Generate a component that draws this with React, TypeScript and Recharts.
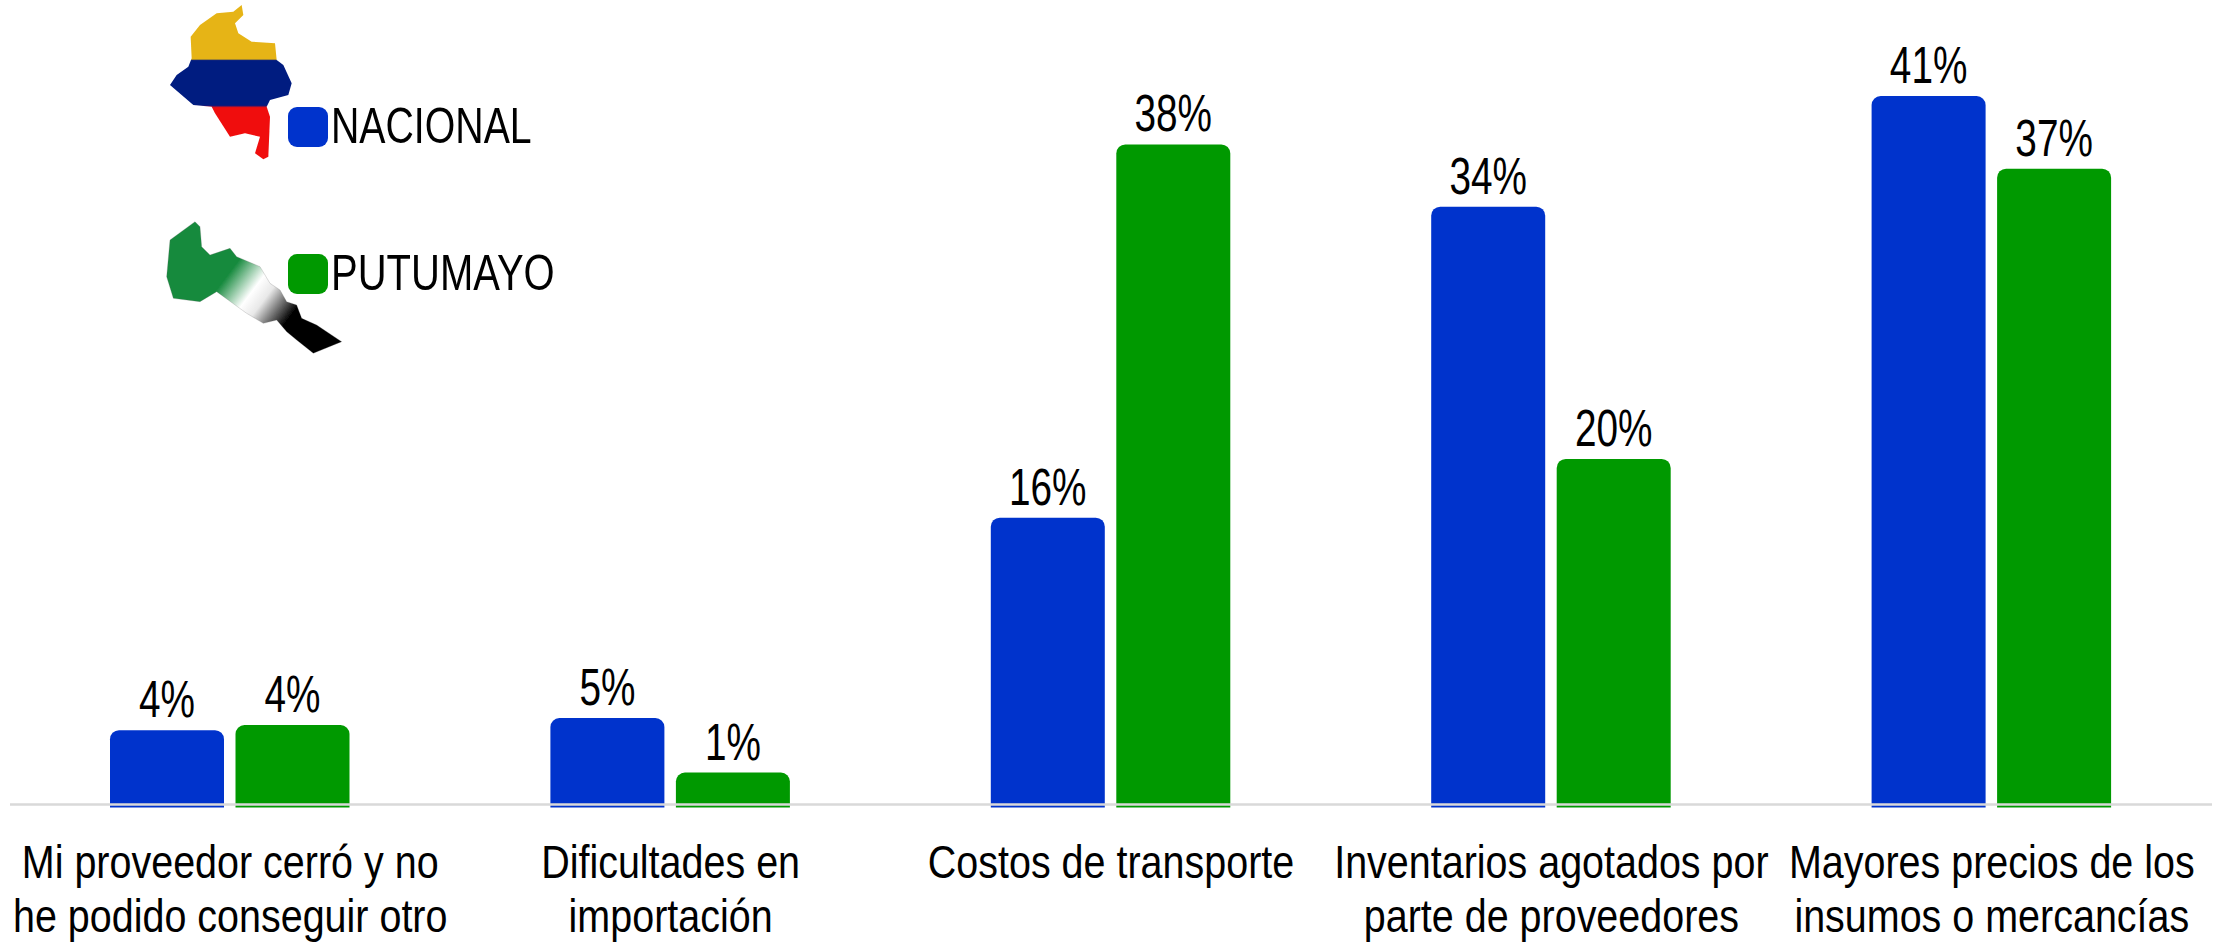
import { BarChart, Bar, XAxis, YAxis, LabelList, Legend, Rectangle, ReferenceLine } from "recharts"

const categories = [
  "Mi proveedor cerró y no|he podido conseguir otro",
  "Dificultades en|importación",
  "Costos de transporte",
  "Inventarios agotados por|parte de proveedores",
  "Mayores precios de los|insumos o mercancías",
]
const nacional = [4.3, 5, 16.6, 34.6, 41]
const putumayo = [4.6, 1.85, 38.2, 20, 36.8]
const nacionalLabels = ["4%", "5%", "16%", "34%", "41%"]
const putumayoLabels = ["4%", "1%", "38%", "20%", "37%"]

const data = categories.map((name, i) => ({ name, nacional: nacional[i], putumayo: putumayo[i] }))

const BLUE = "#0033cc"
const GREEN = "#009900"
const FONT = "'Liberation Sans', Arial, sans-serif"

// bars run a little past the axis line, square at the bottom
const BarShape = (props: any) => <Rectangle {...props} height={props.height + 3} radius={[9, 9, 0, 0]} />

const CategoryTick = ({ x, y, payload }: any) => {
  const lines = payload.value.split("|")
  return (
    <g transform={`translate(${x},${y}) scale(0.84,1)`}>
      {lines.map((line: string, i: number) => (
        <text key={i} x={0} y={i * 53.5 + 66} textAnchor="middle" fontFamily={FONT} fontSize={47} fill="#000">
          {line}
        </text>
      ))}
    </g>
  )
}

const valueLabel = (labels: string[]) => (props: any) => {
  const { x, y, width, index } = props
  return (
    <text
      transform={`translate(${x + width / 2},${y - 13}) scale(0.76,1)`}
      textAnchor="middle"
      fontFamily={FONT}
      fontSize={51}
      fill="#000"
    >
      {labels[index]}
    </text>
  )
}

const LegendBox = () => (
  <div style={{ position: "relative", width: 600, height: 300, fontFamily: FONT, fontSize: 50, color: "#000" }}>
    {[
      { name: "NACIONAL", color: BLUE, top: 107, scale: 0.785 },
      { name: "PUTUMAYO", color: GREEN, top: 254, scale: 0.8 },
    ].map((item) => (
      <div key={item.name}>
        <div style={{ position: "absolute", left: 288, top: item.top, width: 40, height: 40, borderRadius: 9, background: item.color }} />
        <div style={{ position: "absolute", left: 331, top: item.top - 8, lineHeight: "55px", transform: `scaleX(${item.scale})`, transformOrigin: "left" }}>
          {item.name}
        </div>
      </div>
    ))}
  </div>
)

// small flag maps beside the legend
const Maps = () => (
  <svg width={460} height={370} viewBox="0 0 1380 1110" style={{ position: "absolute", left: 120, top: 0 }}>
    <defs>
      <filter id="soft">
        <feGaussianBlur stdDeviation="2" />
      </filter>
      <linearGradient id="colombia" gradientUnits="userSpaceOnUse" x1="0" y1="15" x2="0" y2="478">
        <stop offset="0.35" stopColor="#e6b414" />
        <stop offset="0.36" stopColor="#001a80" />
        <stop offset="0.65" stopColor="#001a80" />
        <stop offset="0.665" stopColor="#f01010" />
      </linearGradient>
      <linearGradient id="putumayo" gradientUnits="userSpaceOnUse" x1="300" y1="810" x2="520" y2="975">
        <stop offset="0.1" stopColor="#178a3e" />
        <stop offset="0.42" stopColor="#ffffff" />
        <stop offset="0.58" stopColor="#e8e8e8" />
        <stop offset="0.92" stopColor="#000000" />
      </linearGradient>
    </defs>
    <polygon
      fill="url(#colombia)"
      filter="url(#soft)"
      points="365,15 370,45 345,70 355,100 395,125 465,130 470,180 490,195 515,250 505,285 450,300 440,320 450,350 445,470 430,478 405,460 420,410 375,400 330,410 285,340 275,320 220,315 150,255 170,225 205,200 215,175 212,110 240,75 290,40 340,35"
    />
    <polygon
      fill="url(#putumayo)"
      filter="url(#soft)"
      stroke="#666"
      strokeWidth={2}
      strokeOpacity={0.35}
      points="225,665 240,680 245,740 270,765 330,745 350,770 420,800 450,850 480,870 500,905 530,915 545,955 590,975 665,1025 580,1060 530,1020 500,995 470,960 430,970 380,940 290,875 240,905 160,895 140,830 150,720"
    />
  </svg>
)

export default function App() {
  return (
    <div style={{ position: "absolute", left: 0, top: 0, width: 2213, height: 943, background: "#fff", overflow: "hidden" }}>
      <BarChart
        width={2213}
        height={943}
        data={data}
        margin={{ top: 27, right: 1, bottom: 0, left: 10 }}
        barSize={114}
        barGap={11.5}
      >
        <YAxis hide domain={[0, 45]} />
        <XAxis dataKey="name" height={138.5} axisLine={false} tickLine={false} interval={0} tick={<CategoryTick />} />
        <Legend
          layout="horizontal"
          verticalAlign="middle"
          align="center"
          content={<LegendBox />}
          wrapperStyle={{ left: 0, top: 0, width: 600, height: 300 }}
        />
        <Bar dataKey="nacional" name="NACIONAL" fill={BLUE} shape={BarShape} isAnimationActive={false}>
          <LabelList content={valueLabel(nacionalLabels)} />
        </Bar>
        <Bar dataKey="putumayo" name="PUTUMAYO" fill={GREEN} shape={BarShape} isAnimationActive={false}>
          <LabelList content={valueLabel(putumayoLabels)} />
        </Bar>
        <ReferenceLine y={0} stroke="#d9d9d9" strokeWidth={2.5} />
      </BarChart>
      <Maps />
    </div>
  )
}
